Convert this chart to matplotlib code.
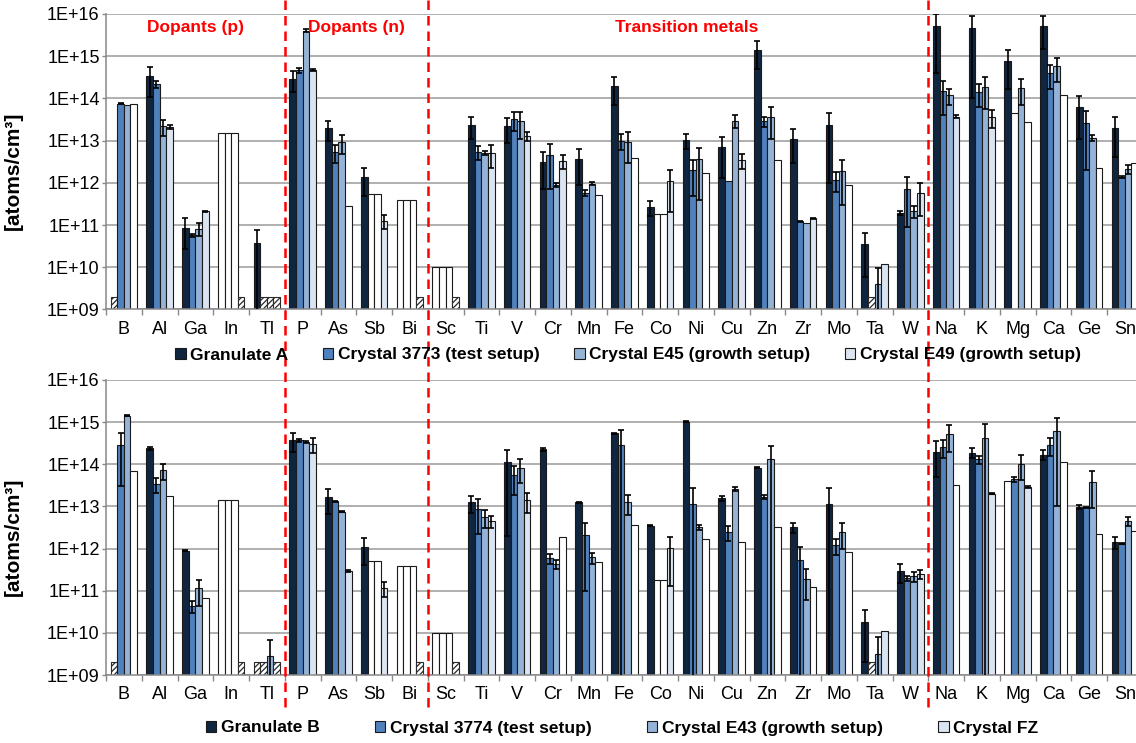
import numpy as np
import matplotlib
matplotlib.use("Agg")
import matplotlib.pyplot as plt
import matplotlib.transforms as mtransforms
from matplotlib.lines import Line2D
from matplotlib.patches import Patch

plt.rcParams['font.family'] = ['Liberation Sans', 'DejaVu Sans']
plt.rcParams['hatch.linewidth'] = 0.9

elements = ['B', 'Al', 'Ga', 'In', 'Tl', 'P', 'As', 'Sb', 'Bi', 'Sc', 'Ti', 'V', 'Cr', 'Mn',
            'Fe', 'Co', 'Ni', 'Cu', 'Zn', 'Zr', 'Mo', 'Ta', 'W', 'Na', 'K', 'Mg', 'Ca', 'Ge', 'Sn']

# group dividers (between Tl|P, Bi|Sc, W|Na) and group titles of the upper panel
dividers = [4.5, 8.5, 22.5]
group_titles = ['Dopants (p)', 'Dopants (n)', 'Transition metals']
group_title_x = [2.0, 6.5, 15.75]

# kind: c = measured, w = detection limit (white), h = below limit (hatched)
# ---------- upper panel ----------
top_labels = ['Granulate A', 'Crystal 3773 (test setup)',
              'Crystal E45 (growth setup)', 'Crystal E49 (growth setup)']

a_val = [2e9, 3.4e14, 8.7e10, 1.5e13, 3.8e10, 2.9e14, 1.95e13, 1.38e12, 4e11, 1e10,
         2.4e13, 2.2e13, 3.1e12, 3.6e12, 2.0e14, 2.7e11, 1.05e13, 6.9e12, 1.4e15, 1.1e13,
         2.3e13, 3.6e10, 1.9e11, 5.2e15, 4.6e15, 7.7e14, 5.3e15, 6.3e13, 2.0e13]
a_err = [0, 2.3e14, 6e10, 0, 3.8e10, 1.5e14, 0.95e13, 0.9e12, 0, 0,
         1.3e13, 1.3e13, 2.4e12, 2.7e12, 1.3e14, 1.1e11, 0.42e13, 5.6e12, 0.9e15, 0.8e13,
         2.2e13, 3e10, 0.2e11, 4.8e15, 4.5e15, 6e14, 3.8e15, 5.2e13, 1.6e13]
a_kind = "hccwccccwwccccccccccccccccccc"

c3773_val = [7.4e13, 2.2e14, 5.8e10, 1.5e13, 2e9, 4.6e14, 5.3e12, 5.5e11, 4e11, 1e10,
             5.4e12, 3.3e13, 4.6e12, 5.8e11, 1.0e13, 1.8e11, 2.0e12, 1.1e12, 2.9e13, 1.23e11,
             1.2e12, 2e9, 7.2e11, 1.5e14, 1.42e14, 4.4e13, 4.0e14, 2.6e13, 1.38e12]
c3773_err = [0.2e13, 0.4e14, 0.5e10, 0, 0, 0.7e14, 2.4e12, 0, 0, 0,
             1.9e12, 1.6e13, 3.9e12, 1e11, 0.4e13, 0, 1.5e12, 0, 0.8e13, 0.05e11,
             0.6e12, 0, 6.3e11, 1.1e14, 0.8e14, 0, 2.3e14, 2.4e13, 0.05e12]
c3773_kind = "cccwhccwwwcccccwccccchcccwccc"

e45_val = [7e13, 2.2e13, 8.2e10, 1.5e13, 2e9, 4.0e15, 9.1e12, 5.5e11, 4e11, 1e10,
           5.2e12, 2.9e13, 9e11, 9.6e11, 9.5e12, 1.8e11, 3.6e12, 2.95e13, 3.6e13, 1.14e11,
           1.9e12, 4e9, 2.2e11, 1.2e14, 1.85e14, 1.8e14, 5.9e14, 1.18e13, 2.1e12]
e45_err = [0, 0.9e13, 2.8e10, 0, 0, 0.3e15, 4.3e12, 0, 0, 0,
           0.6e12, 1.8e13, 1e11, 0.8e11, 6.5e12, 0, 3.2e12, 1.0e13, 2.5e13, 0,
           1.6e12, 5.8e9, 0.7e11, 0.5e14, 1.3e14, 1.1e14, 3.4e14, 0.2e13, 0.5e12]
e45_kind = "cccwhccwwwcccccwccccccccccccc"

e49_val = [7.2e13, 2.1e13, 2.1e11, 2e9, 2e9, 4.7e14, 2.8e11, 1.25e11, 2e9, 2e9,
           5.2e12, 1.28e13, 3.3e12, 5.2e11, 3.8e12, 1.1e12, 1.7e12, 3.4e12, 3.5e12, 1.45e11,
           9.1e11, 1.18e10, 5.8e11, 3.7e13, 3.6e13, 2.7e13, 1.2e14, 2.3e12, 2.9e12]
e49_err = [0, 0.25e13, 0.05e11, 0, 0, 0.2e14, 0, 0.45e11, 0, 0,
           2.9e12, 0.3e13, 1.2e12, 0, 0, 0.9e12, 0, 1.3e12, 0, 0.05e11,
           0, 0, 4.2e11, 0.3e13, 1.6e13, 0, 0, 0, 0]
e49_kind = "wcchhcwchhcccwwcwcwcwccccwwww"

# ---------- lower panel ----------
bot_labels = ['Granulate B', 'Crystal 3774 (test setup)',
              'Crystal E43 (growth setup)', 'Crystal FZ']

b_val = [2e9, 2.4e14, 8.9e11, 1.4e13, 2e9, 3.7e14, 1.65e13, 1.1e12, 3.8e11, 1e10,
         1.26e13, 1.12e14, 2.25e14, 1.24e13, 5.4e14, 3.5e12, 1.02e15, 1.55e13, 8.3e13, 3.2e12,
         1.17e13, 1.8e10, 2.9e11, 2.0e14, 1.9e14, 4.1e13, 1.7e14, 9.8e12, 1.45e12]
b_err = [0, 0.2e14, 0.3e11, 0, 0, 1.7e14, 1.0e13, 0.7e12, 0, 0,
         0.55e13, 1.1e14, 0.2e14, 0.03e13, 0.2e14, 0.1e12, 0.02e15, 0.2e13, 0.1e13, 0.8e12,
         1.5e13, 1.6e10, 1.4e11, 1.5e14, 0.5e14, 0, 0.45e14, 0.9e12, 0.45e12]
b_kind = "hccwhcccwwcccccccccccccccwccc"

c3774_val = [2.9e14, 3.4e13, 4.4e10, 1.4e13, 2e9, 3.7e14, 1.32e13, 5e11, 3.8e11, 1e10,
             8.6e12, 5.5e13, 6e11, 2.1e12, 2.8e14, 1.75e11, 1.15e13, 2.5e12, 1.7e13, 5.5e11,
             1.2e12, 2e9, 1.96e11, 2.6e14, 1.3e14, 4.4e13, 2.9e14, 9.5e12, 1.3e12]
c3774_err = [2.6e14, 1.3e13, 1.4e10, 0, 0, 0.3e14, 0.05e13, 0, 0, 0,
             6.4e12, 3.6e13, 1.6e11, 2.0e12, 3.6e14, 0, 1.6e13, 1e12, 0.2e13, 5.5e11,
             0.5e12, 0, 0.3e11, 1.2e14, 0.3e14, 0.5e13, 1.3e14, 0.2e12, 0.05e12]
c3774_kind = "cccwhccwwwcccccwccccchccccccc"

e43_val = [1.42e15, 7.3e13, 1.13e11, 1.4e13, 2.9e9, 3.4e14, 7.5e12, 5e11, 3.8e11, 1e10,
           5.7e12, 8.3e13, 4.3e11, 6.2e11, 1.26e13, 1.75e11, 3.2e12, 2.6e13, 1.3e14, 1.9e11,
           2.5e12, 3.2e9, 2.2e11, 5.2e14, 4.3e14, 1.03e14, 6.2e14, 3.9e13, 4.6e12]
e43_err = [0.03e15, 3e13, 0.7e11, 0, 4e9, 0.2e14, 0.2e12, 0, 0, 0,
           2.7e12, 4.8e13, 1e11, 1.8e11, 0.65e13, 0, 0.5e12, 0.3e13, 1.4e14, 1.3e11,
           1.5e12, 4.6e9, 0.6e11, 3.2e14, 4.6e14, 0.6e14, 6.1e14, 3e13, 1.1e12]
e43_kind = "cccwcccwwwcccccwccccccccccccc"

fz_val = [7.1e13, 1.8e13, 6.6e10, 2e9, 2e9, 3.0e14, 2.95e11, 1.15e11, 2e9, 2e9,
          4.5e12, 1.4e13, 1.9e12, 4.9e11, 3.7e12, 1.03e12, 1.65e12, 1.45e12, 3.3e12, 1.23e11,
          8.5e11, 1.12e10, 2.5e11, 3.2e13, 2.0e13, 2.9e13, 1.12e14, 2.2e12, 2.6e12]
fz_err = [0, 0, 0, 0, 0, 1.1e14, 0.1e11, 0.45e11, 0, 0,
          1.4e12, 0.7e13, 0, 0, 0, 0.9e12, 0, 0, 0, 0,
          0, 0, 0.6e11, 0, 0.05e13, 0.1e13, 0, 0, 0]
fz_kind = "wwwhhccchhccwwwcwwwwwccwccwww"

colors = ['#10253f', '#4f81bd', '#95b3d7', '#dbe5f1']
edge = '#1a1a1a'
bar_w = 0.185

fig = plt.figure(figsize=(11.36, 7.43), dpi=100)
W, H = 1136, 743
ax_top = fig.add_axes([106 / W, 1 - 309.5 / H, 29 * 35.75 / W, 295.5 / H])
ax_bot = fig.add_axes([106 / W, 1 - 675 / H, 29 * 35.75 / W, 295 / H])


def draw_panel(ax, series):
    ax.set_yscale('log')
    xc = np.arange(len(elements))
    for i, (vals, errs, kinds) in enumerate(series):
        vals = np.asarray(vals, dtype=float)
        errs = np.asarray(errs, dtype=float)
        kinds = np.array(list(kinds))
        x = xc + (i - 1.5) * bar_w
        plain = kinds != 'h'
        face = np.where(kinds == 'c', colors[i], 'white')[plain]
        ax.bar(x[plain], vals[plain], bar_w, color=face, edgecolor=edge,
               linewidth=0.8, zorder=2)
        hat = kinds == 'h'
        if hat.any():
            ax.bar(x[hat], vals[hat], bar_w, color='white', edgecolor='#2a2a2a',
                   hatch='//////', linewidth=0.8, zorder=2)
        m = (kinds == 'c') & (errs > 0)
        ax.errorbar(x[m], vals[m], yerr=errs[m], fmt='none', ecolor='black',
                    elinewidth=1.2, capsize=2.2, capthick=1.2, zorder=3)

    ax.set_ylim(1e9, 1e16)
    ax.set_xlim(-0.5, len(elements) - 0.5)
    decades = [10.0 ** k for k in range(9, 17)]
    ax.set_yticks(decades)
    ax.set_yticklabels(['1E+%02d' % k for k in range(9, 17)])
    ax.yaxis.set_minor_locator(matplotlib.ticker.NullLocator())
    ax.set_xticks(xc)
    ax.set_xticklabels(elements)
    ax.set_xticks(np.arange(len(elements) + 1) - 0.5, minor=True)
    ax.tick_params(axis='x', which='major', length=0, pad=8, labelsize=13)
    ax.tick_params(axis='x', which='minor', length=4, width=1, color='#888888')
    ax.tick_params(axis='y', length=3, width=1, color='#888888', pad=1.5, labelsize=13)
    ax.grid(axis='y', color='#9a9a9a', linewidth=1.1, zorder=0)
    ax.set_axisbelow(True)
    for s in ['top', 'right']:
        ax.spines[s].set_visible(False)
    for s in ['left', 'bottom']:
        ax.spines[s].set_color('#888888')
        ax.spines[s].set_linewidth(1.1)
    ax.set_ylabel('[atoms/cm³]', fontsize=15, fontweight='bold')
    ax.yaxis.set_label_coords(-0.08, 0.47)


draw_panel(ax_top, [(a_val, a_err, a_kind), (c3773_val, c3773_err, c3773_kind),
                    (e45_val, e45_err, e45_kind), (e49_val, e49_err, e49_kind)])
draw_panel(ax_bot, [(b_val, b_err, b_kind), (c3774_val, c3774_err, c3774_kind),
                    (e43_val, e43_err, e43_kind), (fz_val, fz_err, fz_kind)])

for t, xt in zip(group_titles, group_title_x):
    ax_top.text(xt, 0.953, t, transform=ax_top.get_xaxis_transform(), color='#ff0000',
                fontsize=12.5, fontweight='bold', ha='center', va='center')

# red dashed dividers running through both panels
trans = mtransforms.blended_transform_factory(ax_top.transData, fig.transFigure)
for d in dividers:
    fig.add_artist(Line2D([d, d], [1.0, 1 - 708 / H], transform=trans, color='#ff0000',
                          linewidth=1.8, linestyle=(0, (3.8, 2.4)), zorder=5))


def legend(labels, cx, cy, spacing):
    handles = [Patch(facecolor=c, edgecolor=edge, linewidth=0.8) for c in colors]
    fig.legend(handles, labels, loc='center', bbox_to_anchor=(cx / W, 1 - cy / H),
               ncol=4, frameon=False, prop={'weight': 'bold', 'size': 12.5},
               handlelength=0.6, handleheight=0.6, handletextpad=0.25,
               columnspacing=spacing, borderpad=0)


legend(top_labels, 628, 355, 2.0)
legend(bot_labels, 622, 728, 3.2)

fig.savefig('out.png', dpi=100)
